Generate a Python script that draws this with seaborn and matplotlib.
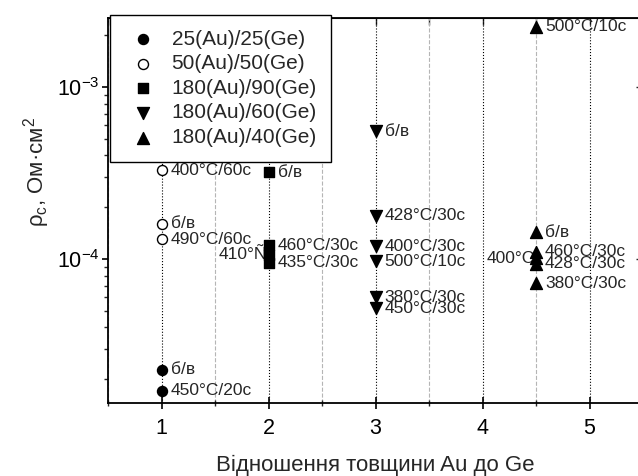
import numpy as np
import pandas as pd
import matplotlib
matplotlib.use("Agg")
import matplotlib.pyplot as plt
from matplotlib.ticker import MultipleLocator, LogLocator, FixedLocator, NullFormatter
import seaborn as sns

## Data

series_names = ['25(Au)/25(Ge)', '50(Au)/50(Ge)', '180(Au)/90(Ge)',
                '180(Au)/60(Ge)', '180(Au)/40(Ge)']
series_ratio = [1, 1, 2, 3, 4.5]

rho_25_25 = [2.27e-5, 1.71e-5]
note_25_25 = ['б/в', '450°C/20c']

rho_50_50 = [3.29e-4, 1.60e-4, 1.30e-4]
note_50_50 = ['400°C/60c', 'б/в', '490°C/60c']

rho_180_90 = [3.20e-4, 1.20e-4, 1.06e-4, 9.5e-5]
note_180_90 = ['б/в', '460°C/30c', '410°Ñ', '435°C/30c']

rho_180_60 = [5.54e-4, 1.79e-4, 1.19e-4, 9.7e-5, 6.0e-5, 5.16e-5]
note_180_60 = ['б/в', '428°C/30c', '400°C/30c', '500°C/10c', '380°C/30c', '450°C/30c']

rho_180_40 = [2.24e-3, 1.43e-4, 1.10e-4, 1.01e-4, 9.4e-5, 7.22e-5]
note_180_40 = ['500°C/10c', 'б/в', '460°C/30c', '400°C', '428°C/30c', '380°C/30c']

# notes that sit to the left of their marker
left_notes = ['410°Ñ', '400°C']

x_ticks = [1, 2, 3, 4, 5]
y_ticks = [1e-4, 1e-3]
y_ticklabels = ['$10^{-4}$', '$10^{-3}$']

all_rho = [rho_25_25, rho_50_50, rho_180_90, rho_180_60, rho_180_40]
all_note = [note_25_25, note_50_50, note_180_90, note_180_60, note_180_40]

rows = []
for name, xr, ys, ns in zip(series_names, series_ratio, all_rho, all_note):
    for y, n in zip(ys, ns):
        rows.append({'ratio': xr, 'rho': y, 'series': name, 'note': n})
df = pd.DataFrame(rows)

## Style

sns.set_style('ticks')
plt.rcParams['font.family'] = ['Liberation Sans', 'DejaVu Sans']
plt.rcParams['mathtext.fontset'] = 'custom'
plt.rcParams['mathtext.rm'] = 'Liberation Sans'
plt.rcParams['mathtext.it'] = 'Liberation Sans'
plt.rcParams['mathtext.bf'] = 'Liberation Sans:bold'

markers = ['o', 'o', 's', 'v', '^']
faces = ['black', 'white', 'black', 'black', 'black']
sizes = [52, 52, 42, 74, 74]

fig = plt.figure(figsize=(6.38, 4.76), dpi=100)
ax = fig.add_axes([108 / 638, 73 / 476, 535 / 638, 385 / 476])

for name, mk, fc, sz in zip(series_names, markers, faces, sizes):
    sub = df[df['series'] == name]
    sns.scatterplot(data=sub, x='ratio', y='rho', marker=mk, s=sz,
                    color=fc, edgecolor='black', linewidth=1.0,
                    label=name, ax=ax, zorder=3)

# annotations next to each point
for _, r in df.iterrows():
    if r['note'] in left_notes:
        ax.annotate(r['note'], (r['ratio'], r['rho']), xytext=(-1, 0),
                    textcoords='offset points', ha='right', va='center',
                    fontsize=12.5, zorder=2)
    else:
        ax.annotate(r['note'], (r['ratio'], r['rho']), xytext=(6.5, 0),
                    textcoords='offset points', ha='left', va='center',
                    fontsize=12.5, zorder=2)

ax.set_yscale('log')
ax.set_xlim(0.5, 5.5)
ax.set_ylim(1.455e-5, 2.52e-3)

ax.xaxis.set_major_locator(FixedLocator(x_ticks))
ax.xaxis.set_minor_locator(MultipleLocator(0.5))
ax.set_yticks(y_ticks)
ax.set_yticklabels(y_ticklabels)
ax.yaxis.set_minor_locator(LogLocator(base=10, subs=np.arange(2, 10)))
ax.yaxis.set_minor_formatter(NullFormatter())

ax.grid(axis='x', which='major', color='black', ls=':', lw=0.8, zorder=0)
ax.grid(axis='x', which='minor', color='#b5b5b5', ls='--', lw=0.8, zorder=0)
ax.set_axisbelow(True)

for sp in ax.spines.values():
    sp.set_color('black')
    sp.set_linewidth(1.3)

ax.tick_params(axis='x', which='major', direction='inout', length=8, width=1.2,
               labelsize=15.5, pad=7, colors='black')
ax.tick_params(axis='x', which='minor', direction='inout', length=5, width=1.0)
ax.tick_params(axis='y', which='major', direction='out', length=4, width=1.2,
               labelsize=15.5, pad=2, colors='black')
ax.tick_params(axis='y', which='minor', direction='out', length=3, width=1.0)

# inward ticks on top and right
top = ax.secondary_xaxis('top')
top.xaxis.set_major_locator(FixedLocator(x_ticks))
top.xaxis.set_minor_locator(MultipleLocator(0.5))
top.tick_params(which='both', direction='in', length=5, width=1.0, labeltop=False)
right = ax.secondary_yaxis('right')
right.set_yticks(y_ticks)
right.tick_params(which='major', direction='in', length=5, width=1.0, labelright=False)
right.tick_params(which='minor', length=0)

ax.set_xlabel('Відношення товщини Au до Ge', fontsize=16, labelpad=11.5)
ax.set_ylabel('ρ$_c$, Ом·см$^2$', fontsize=16)
ax.yaxis.set_label_coords(-0.104, 0.6)

leg = ax.legend(loc='upper left', bbox_to_anchor=(0.004, 1.008), borderaxespad=0,
                fontsize=15, frameon=True, fancybox=False, edgecolor='black',
                framealpha=1, labelspacing=0.27, handletextpad=0.5,
                handlelength=1.75, borderpad=0.7)
leg.get_frame().set_linewidth(1.0)
leg.set_zorder(5)

fig.savefig('out.png', dpi=100)
